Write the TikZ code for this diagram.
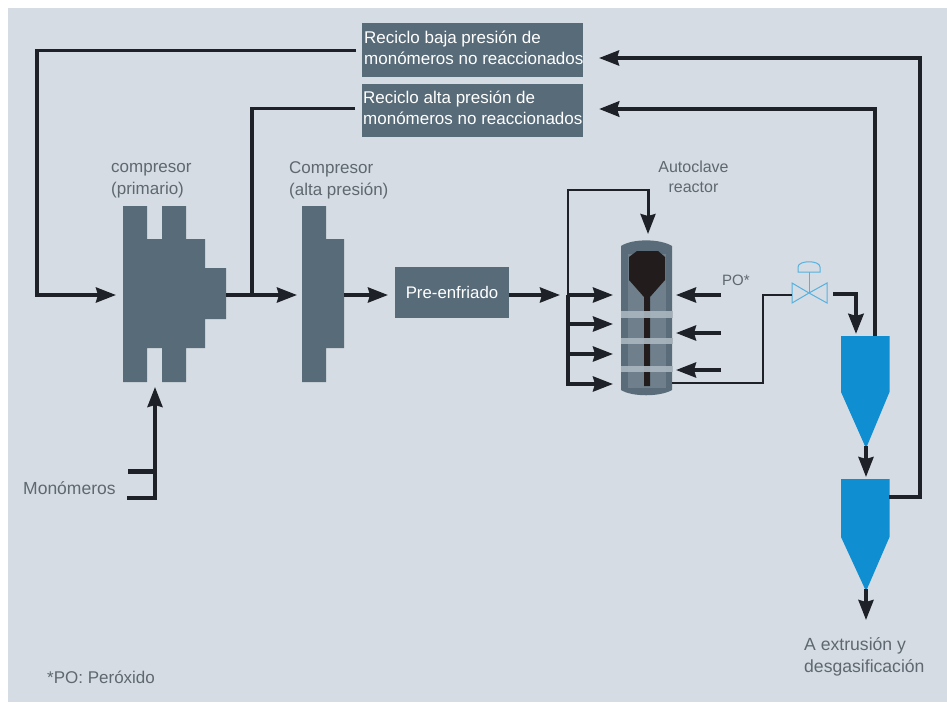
\documentclass[tikz,border=0pt]{standalone}
\usepackage{fontspec}
\setmainfont{Liberation Sans}
\usetikzlibrary{arrows.meta}
\definecolor{bg}{HTML}{D5DCE3}
\definecolor{slate}{HTML}{586B79}
\definecolor{ink}{HTML}{1E2228}
\definecolor{txt}{HTML}{5F6870}
\definecolor{cyc}{HTML}{0F8FD2}
\definecolor{band}{HTML}{A9B5BE}
\definecolor{vessel}{HTML}{6F808C}
\definecolor{vesselrim}{HTML}{5A6C79}
\definecolor{core}{HTML}{231C1D}
\tikzset{
 x=1pt,y=-1pt,
 tip/.style={-{Stealth[length=20pt,width=15pt,inset=2pt]}},
 flow/.style={draw=ink,line width=3.6pt,tip},
 pipe/.style={draw=ink,line width=3.6pt},
 thin pipe/.style={draw=ink,line width=2.4pt},
 unit/.style={fill=slate,draw=none},
 cyclone/.style={fill=cyc,draw=none},
 lbl/.style={text=txt,font=\fontsize{17}{22}\selectfont,align=left,inner sep=0pt},
 boxfill/.style={fill=slate,inner sep=0pt,minimum width=221pt},
 boxtext/.style={text=white,font=\fontsize{17}{21}\selectfont,align=left,inner sep=0pt},
 valveline/.style={draw=cyc!70!white,line width=1pt},
}
\begin{document}
\begin{tikzpicture}
\useasboundingbox (0,0) rectangle (947,702);
\fill[white] (0,0) rectangle (947,702);
\fill[bg] (8,8) rectangle (947,702);

% recycle boxes
\node[boxfill,minimum height=54pt,anchor=north west] (lowbox) at (362,23) {};
\node[boxfill,minimum height=53pt,anchor=north west] (highbox) at (362,84) {};
\node[boxtext,anchor=west] (lowtext) at (364,47.5) {Reciclo baja presión de\\monómeros no reaccionados};
\node[boxtext,anchor=west] (hightext) at (363,107.5) {Reciclo alta presión de\\monómeros no reaccionados};

% compressors
\fill[unit] (123,206) -- (147,206) -- (147,239) -- (162,239) -- (162,206) -- (186,206) -- (186,239) -- (205,239) -- (205,268) -- (226,268) -- (226,319) -- (205,319) -- (205,348) -- (186,348) -- (186,382) -- (162,382) -- (162,348) -- (147,348) -- (147,382) -- (123,382) -- cycle;
\coordinate (c1out) at (226,295);
\fill[unit] (302,206) -- (326,206) -- (326,239) -- (344,239) -- (344,348) -- (326,348) -- (326,382) -- (302,382) -- cycle;
\coordinate (c2out) at (344,295);

\node[fill=slate,text=white,font=\fontsize{16.8}{20}\selectfont,inner sep=0pt,minimum width=114pt,minimum height=51pt] (pre) at (452,292.5) {Pre-enfriado};

% reactor
\fill[vesselrim] (621,246) .. controls (632,238.5) and (660,238.5) .. (672,246) -- (672,390) .. controls (660,397) and (632,397) .. (621,390) -- cycle;
\fill[vessel] (626,254) rectangle (668,388);
\fill[vesselrim] (621,246) rectangle (628,388);
\fill[vesselrim] (666,246) rectangle (672,388);
\fill[core] (637,251) -- (658,251) -- (665,257) -- (665,280) -- (650,297) -- (650,386) -- (644,386) -- (644,297) -- (629,280) -- (629,257) -- cycle;
\fill[band,opacity=.92] (621,311) rectangle (673,318);
\fill[band,opacity=.92] (621,338) rectangle (673,344);
\fill[band,opacity=.92] (621,366) rectangle (673,372);
\coordinate (rout) at (672,383);

% cyclones
\fill[cyclone] (841,336) -- (889.5,336) -- (889.5,392) -- (867,446) -- (865,446) -- (841,392) -- cycle;
\fill[cyclone] (841,479) -- (889.5,479) -- (889.5,537) -- (867,589) -- (865,589) -- (841,537) -- cycle;

% valve
\draw[valveline] (792,283) -- (792,303) -- (809,293) -- (827,303) -- (827,283) -- (809,293) -- cycle;
\draw[valveline] (809,293) -- (809,272);
\draw[valveline] (798,272) -- (798,267) .. controls (798,260) and (820,260) .. (820,267) -- (820,272) -- cycle;
\coordinate (valveL) at (792,295);

% top recycle lines
\coordinate (lowstub) at (356,50.5);
\coordinate (highstub) at (355,108.5);
\draw[flow] (lowstub) -- (37,50.5) -- (37,295) -- (116,295);
\draw[flow] (889,497) -- (920,497) -- (920,58) -- (599,58);
\draw[flow,line width=4.5pt] (875,336) -- (875,109) -- (599,109);
\draw[pipe] (highstub) -- (252,108.5) -- (252,295);
\draw[flow] (c1out) -- (297,295);
\draw[flow] (c2out) -- (388,295);
\draw[flow] (pre.east |- 0,295) -- (560,295);

% monomers
\draw[draw=ink,line width=5pt] (128,471) -- (155,471);
\draw[pipe] (127,498) -- (155,498);
\draw[flow] (155,499.8) -- (155,387);

% reactor feeds
\draw[thin pipe] (568,190) -- (648,190);
\draw[flow,line width=3pt] (648,188.8) -- (648,234);
\draw[thin pipe] (568,188.8) -- (568,296);
\draw[pipe] (568,295) -- (568,385.8);
\draw[flow] (568,295) -- (613,295);
\draw[flow] (568,324) -- (613,324);
\draw[flow] (568,354) -- (613,354);
\draw[flow] (568,384) -- (613,384);
\draw[flow] (721,295) -- (676,295);
\draw[flow] (721,333) -- (676,333);
\draw[flow] (721,370) -- (676,370);
\draw[thin pipe] (rout) -- (763,383) -- (763,295) -- (valveL);
\draw[flow,line width=4.5pt] (833,294) -- (856,294) -- (856,334);
\draw[flow] (866,446) -- (866,477);
\draw[flow] (866,589) -- (866,620);

% labels
\node[lbl,anchor=west] (t1) at (111,180.5) {compresor\\(primario)};
\node[lbl,anchor=west] (t2) at (289,180.5) {Compresor\\(alta presión)};
\node[lbl,align=center,font=\fontsize{16}{20.5}\selectfont] (t3) at (693.5,177) {Autoclave\\reactor};
\node[lbl,anchor=west,font=\fontsize{15}{18}\selectfont] (t4) at (722,280) {PO*};
\node[lbl,anchor=west,font=\fontsize{17.5}{22}\selectfont] (t5) at (23,488) {Monómeros};
\node[lbl,anchor=west,font=\fontsize{17.6}{21.5}\selectfont] (t6) at (804,657) {A extrusión y\\desgasificación};
\node[lbl,anchor=west] (t7) at (47,677) {*PO: Peróxido};
\end{tikzpicture}
\end{document}
